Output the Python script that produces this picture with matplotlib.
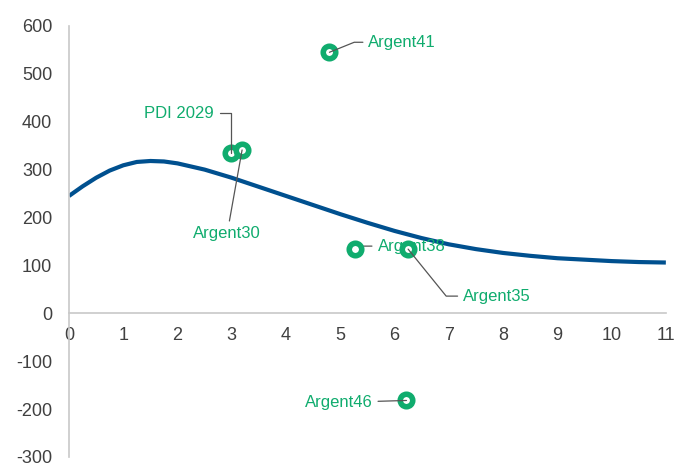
import matplotlib
matplotlib.use("Agg")
import matplotlib.pyplot as plt

plt.rcParams["font.family"] = ["Liberation Sans", "DejaVu Sans"]
plt.rcParams["axes.unicode_minus"] = False

# 曲线
curve_x = [0, 0.25, 0.5, 0.75, 1.0, 1.25, 1.5, 1.75, 2.0, 2.5, 3.0, 3.5, 4.0,
           4.5, 5.0, 5.5, 6.0, 6.5, 7.0, 7.5, 8.0, 8.5, 9.0, 9.5, 10.0, 10.5, 11.0]
curve_y = [245, 265, 283, 298, 309, 316, 318, 317, 313, 300, 283, 264, 245,
           226, 207, 189, 172, 157, 144, 134, 126, 120, 115, 112, 109, 107, 106]

# 散点
names = ["Argent41", "PDI 2029", "Argent30", "Argent38", "Argent35", "Argent46"]
pts_x = [4.80, 2.99, 3.19, 5.28, 6.25, 6.22]
pts_y = [545, 334, 341, 134, 134, -182]

# 标签偏移（像素）、对齐方式、引线样式
label_offsets = [(39, 10), (-17, 40), (-15, -84), (22, 3), (55, -47), (-34, -2)]
label_ha = ["left", "right", "center", "left", "left", "right"]
label_conn = [
    "angle,angleA=0,angleB=22,rad=0",
    "angle,angleA=0,angleB=90,rad=0",
    "arc3,rad=0",
    "angle,angleA=0,angleB=30,rad=0",
    "angle,angleA=0,angleB=-51,rad=0",
    "arc3,rad=0",
]
# Argent38 的文字被 Argent35 的点压住
label_z = [4, 4, 4, 2.5, 4, 4]

GREEN = "#10AC6E"
BLUE = "#00508F"
GREY = "#404040"
AXIS = "#C8C8C8"

fig = plt.figure(figsize=(6.9, 4.63), dpi=100)
ax = fig.add_axes([0.1, 0.013, 0.865, 0.931])

ax.plot(curve_x, curve_y, color=BLUE, lw=3, solid_capstyle="butt", zorder=2)
ax.plot(pts_x, pts_y, linestyle="none", marker="o", markersize=9,
        markerfacecolor="white", markeredgecolor=GREEN, markeredgewidth=4, zorder=3)

for name, px, py, off, ha, conn, z in zip(names, pts_x, pts_y, label_offsets,
                                          label_ha, label_conn, label_z):
    ax.annotate(name, xy=(px, py), xytext=off, textcoords="offset pixels",
                ha=ha, va="center", fontsize=12, color=GREEN, zorder=z,
                arrowprops=dict(arrowstyle="-", color="#555555", lw=0.9,
                                connectionstyle=conn, shrinkA=2, shrinkB=0))

ax.set_xlim(0, 11)
ax.set_ylim(-300, 600)
ax.set_xticks(range(0, 12))
ax.set_yticks(range(-300, 601, 100))

for side in ["top", "right"]:
    ax.spines[side].set_visible(False)
ax.spines["bottom"].set_position(("data", 0))
ax.spines["left"].set_position(("data", 0))
for side in ["bottom", "left"]:
    ax.spines[side].set_color(AXIS)
    ax.spines[side].set_linewidth(1.2)

ax.tick_params(axis="x", length=0, pad=10, labelsize=13, labelcolor=GREY)
ax.tick_params(axis="y", length=0, pad=12, labelsize=13, labelcolor=GREY)

fig.savefig("out.png", dpi=100)
